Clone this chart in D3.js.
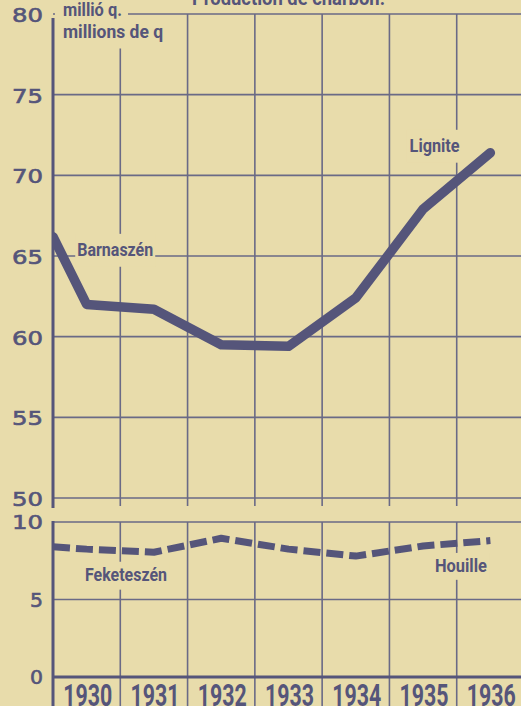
<!DOCTYPE html>
<html>
<head>
<meta charset="utf-8">
<script src="https://cdn.jsdelivr.net/npm/d3@7"></script>
<style>
  html, body { margin: 0; padding: 0; background: #e8dcab; }
  svg { display: block; }
</style>
</head>
<body>
<script>
// ---------- data ----------
const years = [1930, 1931, 1932, 1933, 1934, 1935, 1936];
const yearLabels = ["1930", "1931", "1932", "1933", "1934", "1935", "1936"];
// Barnaszén / Lignite (millió q.)
const lignite = [62.0, 61.7, 59.5, 59.4, 62.4, 67.9, 71.4];
const ligniteStart = 66.2;   // value at the left edge of the chart
// Feketeszén / Houille (millió q.)
const hardCoal = [8.25, 8.05, 8.95, 8.25, 7.8, 8.45, 8.8];
const hardCoalStart = 8.4;
const topTicks = [50, 55, 60, 65, 70, 75, 80];
const bottomTicks = [0, 5, 10];
const titleText = "Production de charbon.";
const unitHu = "millió q.";
const unitFr = "millions de q";

// ---------- setup ----------
const W = 521, H = 706;
const bg = "#e8dcab";
const ink = "#55557a";
const gridInk = "#6a6a86";

const svg = d3.select("body").append("svg").attr("width", W).attr("height", H);
svg.append("rect").attr("width", W).attr("height", H).attr("fill", bg);

const x = d3.scaleLinear().domain([1929.5, 1936.5]).range([53, 524]);
const yTop = d3.scaleLinear().domain([50, 80]).range([498, 14]);
const yBot = d3.scaleLinear().domain([0, 10]).range([677, 522]);

const boundaries = d3.range(1930.5, 1936.5, 1);
const gGrid = svg.append("g");

// top panel grid
gGrid.selectAll(".hTop").data(topTicks).join("line")
  .attr("x1", x(1929.5)).attr("x2", W)
  .attr("y1", d => yTop(d)).attr("y2", d => yTop(d))
  .attr("stroke", gridInk).attr("stroke-width", 1.6);
gGrid.selectAll(".vTop").data(boundaries).join("line")
  .attr("x1", d => x(d)).attr("x2", d => x(d))
  .attr("y1", yTop(80)).attr("y2", yTop(50) + 8)
  .attr("stroke", gridInk).attr("stroke-width", 1.6);
// top left axis
gGrid.append("line")
  .attr("x1", x(1929.5)).attr("x2", x(1929.5))
  .attr("y1", yTop(80) + 4).attr("y2", yTop(50) + 10)
  .attr("stroke", ink).attr("stroke-width", 3);

// bottom panel grid
gGrid.selectAll(".hBot").data(bottomTicks.filter(d => d > 0)).join("line")
  .attr("x1", x(1929.5)).attr("x2", W)
  .attr("y1", d => yBot(d)).attr("y2", d => yBot(d))
  .attr("stroke", gridInk).attr("stroke-width", 1.6);
gGrid.selectAll(".vBot").data(boundaries).join("line")
  .attr("x1", d => x(d)).attr("x2", d => x(d))
  .attr("y1", yBot(10)).attr("y2", H)
  .attr("stroke", gridInk).attr("stroke-width", 1.6);
gGrid.append("line")
  .attr("x1", x(1929.5)).attr("x2", W)
  .attr("y1", yBot(0)).attr("y2", yBot(0))
  .attr("stroke", ink).attr("stroke-width", 3);
gGrid.append("line")
  .attr("x1", x(1929.5)).attr("x2", x(1929.5))
  .attr("y1", yBot(10) - 1).attr("y2", H)
  .attr("stroke", ink).attr("stroke-width", 3);

// ---------- tick labels ----------
const tickFont = "'DejaVu Sans', Verdana, sans-serif";
function tickLabel(v, y) {
  const s = String(v);
  svg.append("text")
    .attr("x", 43).attr("y", y)
    .attr("text-anchor", "end")
    .attr("dominant-baseline", "central")
    .attr("font-family", tickFont).attr("font-size", 19).attr("font-weight", "normal")
    .attr("fill", ink).attr("stroke", ink).attr("stroke-width", 0.6)
    .attr("textLength", s.length === 2 ? 31 : 13)
    .attr("lengthAdjust", "spacingAndGlyphs")
    .text(s);
}
topTicks.forEach(v => tickLabel(v, yTop(v) + 1));
bottomTicks.forEach(v => tickLabel(v, yBot(v)));

// ---------- condensed labels with paper background ----------
const labFont = "'Liberation Sans Narrow', 'Roboto', 'Liberation Sans', sans-serif";
function label(txt, tx, ty, size, len, pad) {
  if (pad) {
    svg.append("rect")
      .attr("x", tx - pad[0]).attr("y", ty - size * 0.85 - pad[1])
      .attr("width", len + pad[0] + pad[2]).attr("height", size * 1.1 + pad[1] + pad[3])
      .attr("fill", bg);
  }
  svg.append("text")
    .attr("x", tx).attr("y", ty)
    .attr("font-family", labFont).attr("font-size", size).attr("font-weight", "bold")
    .attr("fill", ink)
    .attr("textLength", len).attr("lengthAdjust", "spacingAndGlyphs")
    .text(txt);
}
// header unit labels
label(unitHu, 63, 16, 18, 59, [8, 6, 6, 0]);
label(unitFr, 63, 38, 18, 100, [8, 4, 5, 6]);
// title (partly cut at the top, as in the original)
label(titleText, 192, 5, 20, 193, null);

// series labels
label("Barnaszén", x(1929.86), yTop(65), 19, 76, [2, 6, 2, 6]);
label("Lignite", x(1934.8), yTop(71.45), 19, 50, [3, 6, 3, 6]);
label("Feketeszén", x(1929.975), yBot(6.2), 19, 82, [3, 3, 3, 4]);
label("Houille", x(1935.176), yBot(6.77), 19, 52, [3, 3, 3, 3]);

// year labels
svg.selectAll(".yr").data(years).join("text")
  .attr("x", d => x(d) + 1).attr("y", H)
  .attr("text-anchor", "middle")
  .attr("font-family", labFont).attr("font-size", 32).attr("font-weight", "bold")
  .attr("fill", ink)
  .attr("textLength", 49).attr("lengthAdjust", "spacingAndGlyphs")
  .text((d, i) => yearLabels[i]);

// ---------- series ----------
svg.append("clipPath").attr("id", "plotClip")
  .append("rect").attr("x", x(1929.5) - 1).attr("y", 0).attr("width", W).attr("height", H);

const ligPts = [[1929.5, ligniteStart]].concat(years.map((yr, i) => [yr, lignite[i]]));
const hardPts = [[1929.5, hardCoalStart]].concat(years.map((yr, i) => [yr, hardCoal[i]]));

svg.append("path")
  .datum(ligPts)
  .attr("clip-path", "url(#plotClip)")
  .attr("d", d3.line().x(d => x(d[0])).y(d => yTop(d[1])))
  .attr("fill", "none").attr("stroke", ink).attr("stroke-width", 9.5)
  .attr("stroke-linejoin", "round").attr("stroke-linecap", "round");

svg.append("path")
  .datum(hardPts)
  .attr("clip-path", "url(#plotClip)")
  .attr("d", d3.line().x(d => x(d[0])).y(d => yBot(d[1])))
  .attr("fill", "none").attr("stroke", ink).attr("stroke-width", 7)
  .attr("stroke-dasharray", "17,6")
  .attr("stroke-linejoin", "round");
</script>
</body>
</html>
